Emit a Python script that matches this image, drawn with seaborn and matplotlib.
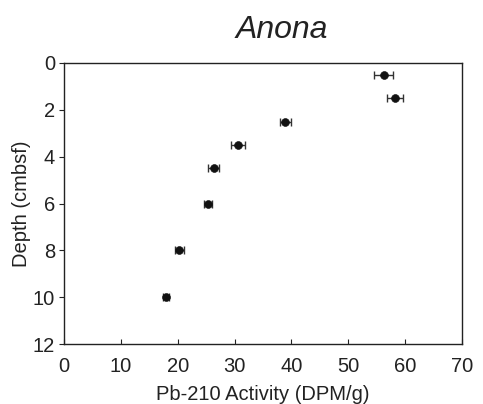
import matplotlib
matplotlib.use("Agg")
import matplotlib.pyplot as plt
import seaborn as sns
import pandas as pd

depth = [0.5, 1.5, 2.5, 3.5, 4.5, 6.0, 8.0, 10.0]
activity = [56.2, 58.2, 38.9, 30.6, 26.3, 25.4, 20.3, 18.0]
err = [1.6, 1.4, 0.95, 1.2, 0.9, 0.7, 0.75, 0.55]
xticks = [0, 10, 20, 30, 40, 50, 60, 70]
yticks = [0, 2, 4, 6, 8, 10, 12]

sns.set_style("white")
plt.rcParams['font.family'] = ['Liberation Sans', 'DejaVu Sans']

df = pd.DataFrame({"activity": activity, "depth": depth})
fig = plt.figure(figsize=(4.83, 4.04), dpi=100)
ax = fig.add_axes([64/483, 1-344/404, 398/483, 281/404])
ax.errorbar(activity, depth, xerr=err, fmt='none', ecolor='#333333', elinewidth=1, capsize=3, capthick=1)
sns.scatterplot(data=df, x="activity", y="depth", ax=ax, color='#111111', s=32, edgecolor='#111111', zorder=3)
ax.set_xlim(0, 70)
ax.set_ylim(12, 0)
ax.set_xticks(xticks)
ax.set_yticks(yticks)
ax.tick_params(labelsize=14.5, length=3.5, bottom=True, left=True, color='#222222', labelcolor='#222222')
ax.tick_params(axis='x', direction='in', pad=9)
ax.tick_params(axis='y', direction='out', pad=3)
for s in ax.spines.values():
    s.set_color('#222222')
    s.set_linewidth(1)
ax.set_xlabel("Pb-210 Activity (DPM/g)", fontsize=14.5, color='#222222', labelpad=7)
ax.set_ylabel("Depth (cmbsf)", fontsize=14.5, color='#222222', labelpad=1)
fig.text(281.5/483, 1-38/404, "Anona", fontsize=23, style='italic', ha='center', va='baseline', color='#222222')
fig.savefig("out.png", dpi=100)
